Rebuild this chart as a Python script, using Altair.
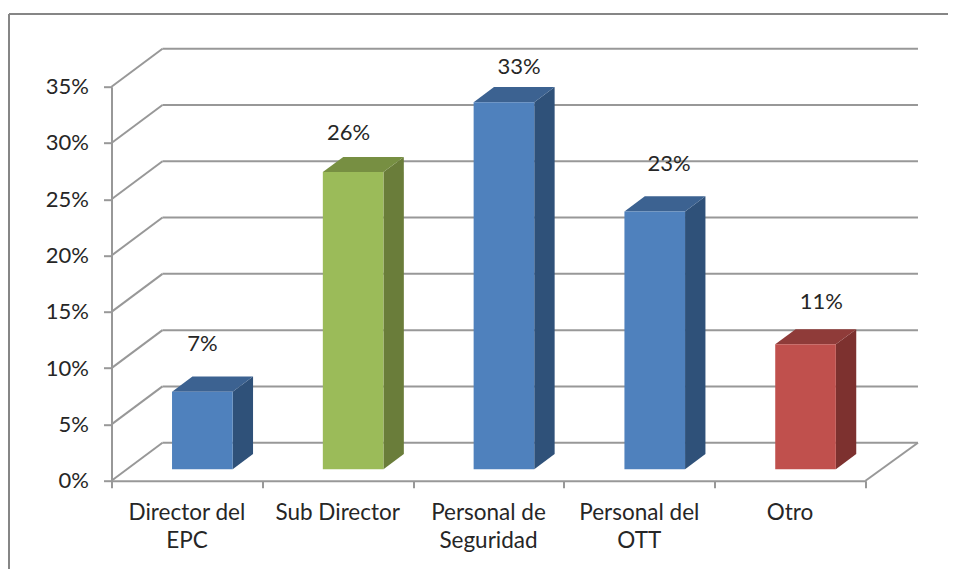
import altair as alt
import pandas as pd

# ---- chart values ----
categories = ["Director del\nEPC", "Sub Director", "Personal de\nSeguridad", "Personal del\nOTT", "Otro"]
values = [6.9, 26.4, 32.6, 22.9, 11.1]
value_labels = ["7%", "26%", "33%", "23%", "11%"]
face_colors = ["#4F81BD", "#9BBB59", "#4F81BD", "#4F81BD", "#C0504D"]
top_colors = ["#3C6291", "#778F42", "#3C6291", "#3C6291", "#8F3B39"]
side_colors = ["#2F5179", "#6A7D3A", "#2F5179", "#2F5179", "#7D312F"]
y_ticks = [0, 5, 10, 15, 20, 25, 30, 35]
x_ticks = [0, 1, 2, 3, 4, 5]

# ---- 3D projection constants (in data units) ----
DEPTH_X = 0.338    # categories
DEPTH_Y = 3.375    # percentage points
BAR_FRONT = 0.3    # fraction of the depth
BAR_DEPTH = 0.4
GAP = 0.3
BAR_W = 0.402
LABEL_DX = [0.0, -0.03, 0.10, 0.095, 0.105]
LABEL_LIFT = [4.25, 3.45, 3.1, 4.25, 3.8]

W, H = 754, 394
PAD_L, PAD_T = 103.5, 78.7
PAGE_W, PAGE_H = 940, 561
GRID = "#989898"
TEXT = "#262626"
FONT = "Lato"

x_s = alt.Scale(domain=[0, 5], nice=False, zero=False)
y_s = alt.Scale(domain=[0, 35], nice=False, zero=False)
x_axis = alt.Axis(
    values=x_ticks, labels=False, grid=False, tickSize=7, tickWidth=2, title=None,
    tickColor=GRID, domainColor=GRID, domainWidth=2)
y_axis = alt.Axis(
    values=y_ticks, labelExpr="datum.value + '%'", grid=False, tickSize=8, tickWidth=2, title=None,
    tickColor=GRID, domainColor=GRID, domainWidth=2, labelFont=FONT, labelFontSize=22,
    labelColor=TEXT, labelPadding=15)
X = lambda f: alt.X(f, type="quantitative", scale=x_s, axis=x_axis)
Y = lambda f: alt.Y(f, type="quantitative", scale=y_s, axis=y_axis)

grid_df = pd.DataFrame({
    "x0": [0.0] * len(y_ticks),
    "x1": [DEPTH_X] * len(y_ticks),
    "x2": [5 + DEPTH_X + 0.01] * len(y_ticks),
    "y0": y_ticks,
    "y1": [t + DEPTH_Y for t in y_ticks],
})

back = alt.Chart(grid_df).mark_rule(color=GRID, strokeWidth=2).encode(
    x=X("x1"), x2="x2", y=Y("y1"))
wall = alt.Chart(grid_df).mark_rule(color=GRID, strokeWidth=2).encode(
    x=X("x0"), x2="x1", y=Y("y0"), y2="y1")
floor_side = alt.Chart(pd.DataFrame({"x0": [5.0], "x1": [5 + DEPTH_X + 0.01], "y0": [0.0], "y1": [DEPTH_Y]})
    ).mark_rule(color=GRID, strokeWidth=2).encode(x=X("x0"), x2="x1", y=Y("y0"), y2="y1")

rows_front, rows_side, rows_top, rows_lab = [], [], [], []
base = BAR_FRONT * DEPTH_Y
for i, v in enumerate(values):
    left = i + GAP + BAR_FRONT * DEPTH_X
    right = left + BAR_W
    top = base + v
    bx = BAR_DEPTH * DEPTH_X
    by = BAR_DEPTH * DEPTH_Y
    rows_front.append(dict(id=i, x=left, x2=right, y=base, y2=top, c=face_colors[i]))
    rows_side += [
        dict(id=i, x=right, y=top, y2=base, c=side_colors[i]),
        dict(id=i, x=right + bx, y=top + by, y2=base + by, c=side_colors[i]),
    ]
    rows_top += [
        dict(id=i, y=top, x=left, x2=right, c=top_colors[i]),
        dict(id=i, y=top + by, x=left + bx, x2=right + bx, c=top_colors[i]),
    ]
    rows_lab.append(dict(x=(left + right) / 2 + LABEL_DX[i], y=top + LABEL_LIFT[i], t=value_labels[i]))

color = alt.Color("c:N", scale=None, legend=None)
front = alt.Chart(pd.DataFrame(rows_front)).mark_rect().encode(
    x=X("x"), x2="x2", y=Y("y"), y2="y2", color=color)
side = alt.Chart(pd.DataFrame(rows_side)).mark_area(orient="vertical").encode(
    x=X("x"), y=Y("y"), y2="y2", color=color, detail="id:N")
topf = alt.Chart(pd.DataFrame(rows_top)).mark_area(orient="horizontal").encode(
    y=Y("y"), x=X("x"), x2="x2", color=color, detail="id:N")

val_text = alt.Chart(pd.DataFrame(rows_lab)).mark_text(
    font=FONT, fontSize=22, color=TEXT, align="center", baseline="middle"
).encode(x=X("x"), y=Y("y"), text="t:N")

cat_df = pd.DataFrame({"x": [i + 0.5 for i in range(len(categories))],
                       "t": [c.split("\n") for c in categories]})
cat_text = alt.Chart(cat_df).mark_text(
    font=FONT, fontSize=22.5, color=TEXT, align="center", baseline="top", lineHeight=28
).encode(x=X("x"), y=alt.value(H + 21), text="t")

frame_df = pd.DataFrame({"a": [1]})
frame_top = alt.Chart(frame_df).mark_rule(color="#868686", strokeWidth=2).encode(
    x=alt.value(1 - PAD_L), x2=alt.value(PAGE_W - PAD_L), y=alt.value(6 - PAD_T))
frame_left = alt.Chart(frame_df).mark_rule(color="#868686", strokeWidth=2).encode(
    x=alt.value(1 - PAD_L), y=alt.value(6 - PAD_T), y2=alt.value(PAGE_H - PAD_T))

chart = alt.layer(
    back, wall, floor_side, side, topf, front, val_text, cat_text, frame_top, frame_left
).properties(
    width=W, height=H,
    autosize=alt.AutoSizeParams(type="none"),
    padding={"left": PAD_L, "top": PAD_T, "right": PAGE_W - PAD_L - W, "bottom": PAGE_H - PAD_T - H},
    background="white",
).configure_view(stroke=None)

chart.save("out.html", embed_options={"renderer": "svg", "actions": False})
